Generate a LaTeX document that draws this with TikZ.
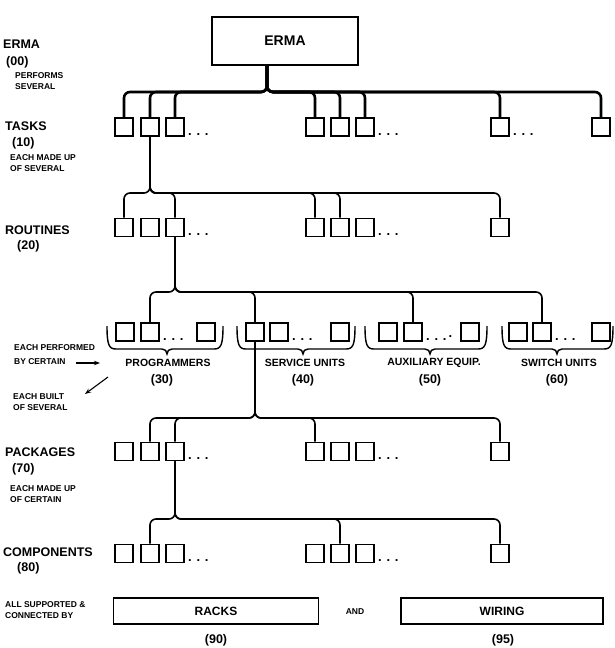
\documentclass[tikz,border=0pt]{standalone}
\usepackage{fontspec}
\setmainfont{Liberation Sans}
\usetikzlibrary{arrows.meta}

\tikzset{
  unit/.style={draw, line width=1.8pt, minimum size=18pt, inner sep=0pt},
  trunk/.style={line width=2.6pt, rounded corners=6pt},
  link/.style={line width=1.6pt, rounded corners=6pt},
  brace/.style={line width=1.4pt},
  lvl/.style={font=\fontsize{12.5}{14}\selectfont\bfseries, anchor=base west, inner sep=0pt},
  grp/.style={font=\fontsize{10.5}{13}\selectfont\bfseries, inner sep=0pt},
  note/.style={font=\fontsize{8.5}{11.5}\selectfont\bfseries, align=left, anchor=north west, inner sep=0pt},
  dots/.style={font=\fontsize{13}{14}\selectfont\bfseries, anchor=base west, inner sep=0pt, xshift=3pt, yshift=1.5pt},
  pointer/.style={line width=1.1pt, -{Stealth[length=6pt,width=4.5pt]}},
  plate/.style={draw, line width=1.6pt, minimum width=205pt, minimum height=26pt,
    font=\fontsize{12}{14}\selectfont\bfseries}
}

\begin{document}
\begin{tikzpicture}[x=1pt,y=-1pt]
\useasboundingbox (0,0) rectangle (615,648);
\def\groupbrace#1#2#3{\draw[brace] (#1,326) .. controls (#1,345) and ({#1+2},349) .. ({#1+9},349)
  -- ({#3-5},349) .. controls ({#3-2},349) and (#3,351) .. (#3,354)
  .. controls (#3,351) and ({#3+2},349) .. ({#3+5},349)
  -- ({#2-9},349) .. controls ({#2-2},349) and (#2,345) .. (#2,326);}

% top of the tree
\node[draw, line width=1.8pt, minimum width=146pt, minimum height=48pt,
  font=\fontsize{14}{16}\selectfont\bfseries] (erma) at (285,41) {ERMA};

% rows of squares
\foreach \n/\x in {1/124,2/150,3/175,4/315,5/340,6/365,7/500,8/601}
  \node[unit] (t\n) at (\x,127) {};
\foreach \n/\x in {1/124,2/150,3/175,4/315,5/340,6/365,7/500} {
  \node[unit] (r\n) at (\x,227.5) {};
  \node[unit] (k\n) at (\x,451.5) {};
  \node[unit] (c\n) at (\x,553.5) {};
}
\foreach \g/\a/\b/\c in {p/125/150/206, s/255/279/340, a/388/413/470, w/518/542/601} {
  \node[unit] (\g1) at (\a,332) {};
  \node[unit] (\g2) at (\b,332) {};
  \node[unit] (\g3) at (\c,332) {};
}

% dots
\node[dots] (tdotsA) at (t3.south east) {. . .};
\node[dots] (tdotsB) at (t6.south east) {. . .};
\node[dots] (tdotsC) at (t7.south east) {. . .};
\node[dots] (rdotsA) at (r3.south east) {. . .};
\node[dots] (rdotsB) at (r6.south east) {. . .};
\node[dots] (pdots) at (p2.south east) {. . .};
\node[dots] (sdots) at (s2.south east) {. . .};
\node[dots] (adots) at (a2.south east) {. . .\,\raisebox{3pt}{.}};
\node[dots] (wdots) at (w2.south east) {. . .};
\node[dots] (kdotsA) at (k3.south east) {. . .};
\node[dots] (kdotsB) at (k6.south east) {. . .};
\node[dots] (cdotsA) at (c3.south east) {. . .};
\node[dots] (cdotsB) at (c6.south east) {. . .};

% junctions
\coordinate (j1) at (267,92);
\coordinate (j2) at (150,193);
\coordinate (j3) at (175,292);
\coordinate (j4) at (255,418);
\coordinate (j5) at (175,519);

\foreach \c in {t1,t2,t3,t4,t5,t6,t7,t8}
  \draw[trunk] (erma.south -| j1) |- (\c.north |- j1) -- (\c.north);
\foreach \c in {r1,r3,r4,r5,r7}
  \draw[link] (t2.south) |- (\c.north |- j2) -- (\c.north);
\foreach \c in {p2,s1,a2,w2}
  \draw[link] (r3.south) |- (\c.north |- j3) -- (\c.north);
\foreach \c in {k2,k3,k4,k7}
  \draw[link] (s1.south) |- (\c.north |- j4) -- (\c.north);
\foreach \c in {c2,c5,c7}
  \draw[link] (k3.south) |- (\c.north |- j5) -- (\c.north);

% groups
\groupbrace{107}{223}{167}
\groupbrace{237}{355}{303}
\groupbrace{365}{487}{430}
\groupbrace{502}{613}{557}
\node[grp] (progname) at (168,363) {PROGRAMMERS};
\node[grp] (servname) at (305,363) {SERVICE UNITS};
\node[grp] (auxname) at (434,363) {AUXILIARY EQUIP.};
\node[grp] (switchname) at (559,363) {SWITCH UNITS};
\node[grp, font=\fontsize{12.5}{14}\selectfont\bfseries] (prognum) at (162,380) {(30)};
\node[grp, font=\fontsize{12.5}{14}\selectfont\bfseries] (servnum) at (303,380) {(40)};
\node[grp, font=\fontsize{12.5}{14}\selectfont\bfseries] (auxnum) at (430,380) {(50)};
\node[grp, font=\fontsize{12.5}{14}\selectfont\bfseries] (switchnum) at (557,380) {(60)};

% left column
\node[lvl] (ermaname) at (3,48) {ERMA};
\node[lvl] (ermanum) at (6,65) {(00)};
\node[lvl] (taskname) at (5,130) {TASKS};
\node[lvl] (tasknum) at (12,146) {(10)};
\node[lvl] (routname) at (5,234) {ROUTINES};
\node[lvl] (routnum) at (17,249) {(20)};
\node[lvl] (packname) at (5,456) {PACKAGES};
\node[lvl] (packnum) at (12,472) {(70)};
\node[lvl] (compname) at (3,556) {COMPONENTS};
\node[lvl] (compnum) at (17,571) {(80)};

\node[note] (performs) at (15,72) {PERFORMS\\SEVERAL};
\node[note] (madeup) at (10,154) {EACH MADE UP\\OF SEVERAL};
\node[note, font=\fontsize{8.5}{14}\selectfont\bfseries] (performed) at (14,344) {EACH PERFORMED\\BY CERTAIN};
\node[note] (built) at (13,393) {EACH BUILT\\OF SEVERAL};
\node[note] (madeof) at (10,485) {EACH MADE UP\\OF CERTAIN};
\node[note] (supported) at (5,601) {ALL SUPPORTED \&\\CONNECTED BY};

\coordinate (perftail) at (76,363);
\coordinate (perftip) at (100,363);
\coordinate (builttail) at (108,377);
\coordinate (builttip) at (85,394);
\draw[pointer] (perftail) -- (perftip);
\draw[pointer] (builttail) -- (builttip);

% racks and wiring
\node[plate] (racks) at (216,611) {RACKS};
\node[plate, minimum width=202pt] (wiring) at (502,611) {WIRING};
\node[note, anchor=center] (and) at (355,612) {AND};
\node[grp, font=\fontsize{12.5}{14}\selectfont\bfseries] (racksnum) at (216,640) {(90)};
\node[grp, font=\fontsize{12.5}{14}\selectfont\bfseries] (wiringnum) at (503,640) {(95)};
\end{tikzpicture}
\end{document}
